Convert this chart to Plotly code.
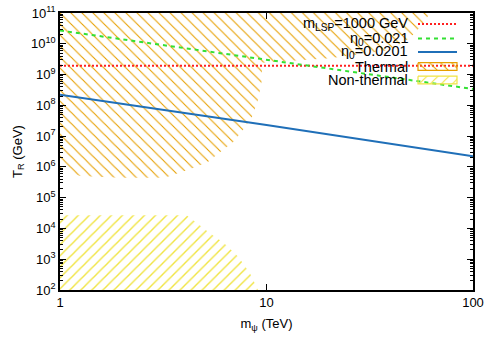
import plotly.graph_objects as go

# ---------------- data (m_psi in TeV, T_R in GeV) ----------------
thermal_m = [1, 62, 56.6, 49.5, 39.6, 20.3, 9.5, 9.5, 9.1, 8.5, 7.7, 6.9, 5.95, 5.2, 4.4, 3.3, 2.98, 1.95, 1.25, 1]
thermal_T = [1e11, 1e11, 4.1e10, 1.55e10, 6.3e9, 3.4e9, 2.4e9, 6.6e8, 1.5e8, 4.2e7, 1.6e7, 6.4e6,
             3.0e6, 1.45e6, 9.2e5, 4.7e5, 4.4e5, 4.4e5, 5.1e5, 9.2e5]

nonthermal_m = [1, 4.1, 4.6, 5.3, 6.2, 7.3, 8.3, 9.1, 1]
nonthermal_T = [2.7e4, 2.7e4, 1.5e4, 7.1e3, 3.4e3, 1.2e3, 355, 100, 100]

lsp_m = [1, 100]
lsp_T = [1.95e9, 1.95e9]

eta_m = [1, 10, 100]
eta021_T = [2.7e10, 3.0e9, 3.4e8]
eta0201_T = [2.2e8, 2.3e7, 2.2e6]

x_ticks = [1, 10, 100]
x_ticktext = ["1", "10", "100"]
y_exps = list(range(2, 12))

legend_labels = ["m<sub>LSP</sub>=1000 GeV", "η<sub>0</sub>=0.021", "η<sub>0</sub>=0.0201", "Thermal", "Non-thermal"]

# ---------------- styles ----------------
ORANGE = "#E69F00"
YELLOW = "#F0E442"
RED = "#FF2020"
GREEN = "#33E033"
BLUE = "#1F6FB8"
FONT = "Liberation Sans, Arial, sans-serif"

fig = go.Figure()

fig.add_trace(go.Scatter(
    x=thermal_m, y=thermal_T, mode="lines", fill="toself",
    line=dict(width=0), fillcolor="rgba(0,0,0,0)",
    fillpattern=dict(shape="\\", fgcolor=ORANGE, bgcolor="rgba(0,0,0,0)", fgopacity=1,
                     size=7.8, solidity=0.14),
    hoverinfo="skip", showlegend=False))

fig.add_trace(go.Scatter(
    x=nonthermal_m, y=nonthermal_T, mode="lines", fill="toself",
    line=dict(width=0), fillcolor="rgba(0,0,0,0)",
    fillpattern=dict(shape="/", fgcolor=YELLOW, bgcolor="rgba(0,0,0,0)", fgopacity=1,
                     size=7.8, solidity=0.18),
    hoverinfo="skip", showlegend=False))

fig.add_trace(go.Scatter(x=lsp_m, y=lsp_T, mode="lines",
                         line=dict(color=RED, width=2, dash="2px,2px"), showlegend=False))
fig.add_trace(go.Scatter(x=eta_m, y=eta021_T, mode="lines",
                         line=dict(color=GREEN, width=2, dash="4px,4px"), showlegend=False))
fig.add_trace(go.Scatter(x=eta_m, y=eta0201_T, mode="lines",
                         line=dict(color=BLUE, width=2), showlegend=False))

# ---------------- manual legend (pixel-like overlay axes) ----------------
row_y = [24, 38.5, 52, 66.5, 80]
sx0, sx1 = 418, 457
fig.add_trace(go.Scatter(x=[sx0, sx1], y=[row_y[0]] * 2, xaxis="x2", yaxis="y2", mode="lines",
                         line=dict(color=RED, width=2, dash="2px,2px"), showlegend=False))
fig.add_trace(go.Scatter(x=[sx0, sx1], y=[row_y[1]] * 2, xaxis="x2", yaxis="y2", mode="lines",
                         line=dict(color=GREEN, width=2, dash="4px,4px"), showlegend=False))
fig.add_trace(go.Scatter(x=[sx0, sx1], y=[row_y[2]] * 2, xaxis="x2", yaxis="y2", mode="lines",
                         line=dict(color=BLUE, width=2), showlegend=False))
for ry, col, shp in [(row_y[3], ORANGE, "\\"), (row_y[4], YELLOW, "/")]:
    fig.add_trace(go.Scatter(
        x=[sx0, sx1, sx1, sx0, sx0], y=[ry - 3.8, ry - 3.8, ry + 3.8, ry + 3.8, ry - 3.8],
        xaxis="x2", yaxis="y2", mode="lines", fill="toself",
        line=dict(color=col, width=1.2), fillcolor="rgba(0,0,0,0)",
        fillpattern=dict(shape=shp, fgcolor=col, bgcolor="rgba(0,0,0,0)", fgopacity=1,
                         size=7.8, solidity=0.14),
        showlegend=False, hoverinfo="skip"))

for ry, lab in zip(row_y, legend_labels):
    fig.add_annotation(x=410, y=ry, xref="x2", yref="y2", text=lab, showarrow=False,
                       xanchor="right", yanchor="middle",
                       font=dict(family=FONT, size=14.5, color="black"))

minor_y = [k * 10 ** e for e in range(2, 11) for k in range(2, 10)]

fig.update_layout(
    width=498, height=349,
    margin=dict(l=60, r=25, t=13, b=59, autoexpand=False),
    plot_bgcolor="white", paper_bgcolor="white",
    font=dict(family=FONT, size=13, color="black"),
    xaxis=dict(type="log", range=[0, 2], tickvals=x_ticks, ticktext=x_ticktext,
               ticks="inside", ticklen=6, tickwidth=1, tickcolor="black",
               showline=True, linecolor="black", linewidth=1.5, mirror="allticks",
               showgrid=False, zeroline=False, automargin=False,
               title=dict(text="m<sub>ψ</sub> (TeV)", standoff=10, font=dict(size=13)),
               tickfont=dict(size=13)),
    yaxis=dict(type="log", range=[2, 11], tickvals=[10 ** e for e in y_exps],
               ticktext=["10<sup>%d</sup>" % e for e in y_exps],
               ticks="inside", ticklen=6, tickwidth=1, tickcolor="black",
               minor=dict(tickvals=minor_y, ticks="inside", ticklen=3, tickcolor="black", showgrid=False),
               showline=True, linecolor="black", linewidth=1.5, mirror="allticks",
               showgrid=False, zeroline=False, automargin=False, ticklabeloverflow="allow",
               title=dict(text="T<sub>R</sub> (GeV)", standoff=6, font=dict(size=13)),
               tickfont=dict(size=13)),
    xaxis2=dict(overlaying="x", range=[60, 473], visible=False, fixedrange=True, automargin=False),
    yaxis2=dict(overlaying="y", range=[290, 13], visible=False, fixedrange=True, automargin=False),
)

# remove the page's default 8px body margin so the figure sits at the window origin
fig.write_html("out.html", config={"displayModeBar": False},
               post_script="document.body.style.margin='0px';")
